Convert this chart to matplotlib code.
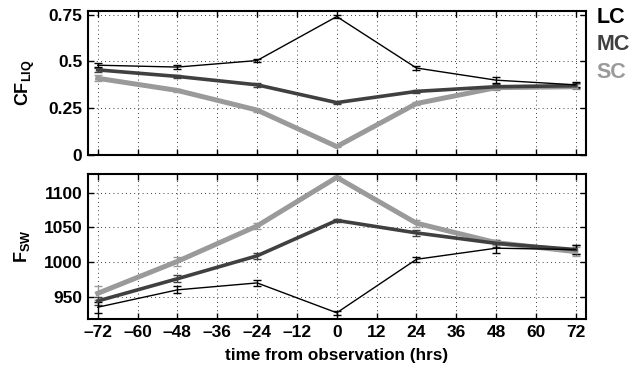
import numpy as np
import matplotlib.pyplot as plt

plt.rcParams['font.family'] = ['Liberation Sans', 'DejaVu Sans']
plt.rcParams['font.weight'] = 'bold'
plt.rcParams['mathtext.fontset'] = 'custom'
plt.rcParams['mathtext.rm'] = 'Liberation Sans:bold'
plt.rcParams['mathtext.bf'] = 'Liberation Sans:bold'
plt.rcParams['mathtext.it'] = 'Liberation Sans:bold'

# time from observation (hrs)
hours = [-72, -48, -24, 0, 24, 48, 72]
xticks = [-72, -60, -48, -36, -24, -12, 0, 12, 24, 36, 48, 60, 72]

# liquid cloud fraction
cf_lc = [0.48, 0.47, 0.505, 0.74, 0.465, 0.40, 0.375]
cf_mc = [0.455, 0.42, 0.375, 0.28, 0.34, 0.365, 0.37]
cf_sc = [0.41, 0.345, 0.24, 0.045, 0.275, 0.36, 0.365]
cf_lc_err = [0.012, 0.012, 0.01, 0.008, 0.01, 0.015, 0.014]
cf_mc_err = [0.01, 0.01, 0.01, 0.005, 0.008, 0.012, 0.014]
cf_sc_err = [0.015, 0.01, 0.008, 0.005, 0.008, 0.012, 0.014]

# shortwave flux
sw_lc = [935, 960, 970, 927, 1004, 1020, 1018]
sw_mc = [944, 976, 1009, 1060, 1042, 1027, 1018]
sw_sc = [955, 1001, 1052, 1122, 1056, 1028, 1015]
sw_lc_err = [8, 5, 4, 3, 4, 7, 7]
sw_mc_err = [6, 5, 4, 2, 4, 5, 7]
sw_sc_err = [10, 6, 4, 2, 5, 4, 6]

names = ['LC', 'MC', 'SC']
colors = ['#000000', '#404040', '#9a9a9a']
widths = [1.0, 2.6, 3.6]

fig = plt.figure(figsize=(6.36, 3.78), dpi=100)
ax1 = fig.add_axes([0.138, 0.590, 0.783, 0.381])
ax2 = fig.add_axes([0.138, 0.156, 0.783, 0.384])

top = [(cf_sc, cf_sc_err), (cf_mc, cf_mc_err), (cf_lc, cf_lc_err)]
bot = [(sw_sc, sw_sc_err), (sw_mc, sw_mc_err), (sw_lc, sw_lc_err)]
order = [2, 1, 0]
for k, i in enumerate(order):
    ax1.errorbar(hours, top[k][0], yerr=top[k][1], color=colors[i], lw=widths[i],
                 elinewidth=1.0, capsize=3, capthick=1.0)
    ax2.errorbar(hours, bot[k][0], yerr=bot[k][1], color=colors[i], lw=widths[i],
                 elinewidth=1.0, capsize=3, capthick=1.0)

for ax in (ax1, ax2):
    ax.set_xlim(-75, 75)
    ax.set_xticks(xticks)
    ax.grid(True, color='black', linestyle=(0, (1, 4)), linewidth=0.6)
    ax.tick_params(direction='in', top=True, right=True, length=4, width=1,
                   labelsize=12.5, pad=4)
    for s in ax.spines.values():
        s.set_linewidth(1.5)
    for lab in ax.get_xticklabels() + ax.get_yticklabels():
        lab.set_fontweight('bold')

ax1.set_ylim(0, 0.77)
ax1.set_yticks([0, 0.25, 0.5, 0.75])
ax1.set_yticklabels(['0', '0.25', '0.5', '0.75'])
ax1.set_xticklabels([])
ax1.set_ylabel(r'$\mathbf{CF_{LIQ}}$', fontsize=13, labelpad=8)

ax2.set_ylim(918, 1127)
ax2.set_yticks([950, 1000, 1050, 1100])
ax2.set_xticklabels(['\u2013' + str(-t) if t < 0 else str(t) for t in xticks])
ax2.set_ylabel(r'$\mathbf{F_{SW}}$', fontsize=13, labelpad=8)
ax2.set_xlabel('time from observation (hrs)', fontsize=12.3, fontweight='bold', labelpad=6)

for i, n in enumerate(names):
    fig.text(0.938, 0.953 - i * 0.072, n, color=colors[i], fontsize=15.5,
             fontweight='bold', va='center', ha='left')

fig.savefig('out.png', dpi=100)
